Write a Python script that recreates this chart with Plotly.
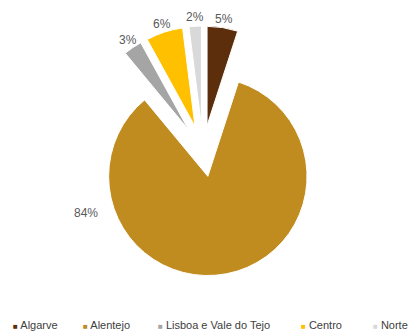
import math
import plotly.graph_objects as go

# Share of area by region (%)
regions = ["Algarve", "Alentejo", "Lisboa e Vale do Tejo", "Centro", "Norte"]
shares = [5, 84, 3, 6, 2]
colors = ["#5C2E0B", "#C08C1F", "#A5A5A5", "#FFC000", "#D9D9D9"]

PULL = 0.26
W, H = 410, 331
M = dict(l=0, r=4, t=26, b=55, autoexpand=False)
PW, PH = W - M["l"] - M["r"], H - M["t"] - M["b"]
LABEL_FONT = dict(family="Liberation Sans, Arial, sans-serif", size=12, color="#595959")


def px_to_paper(x, y):
    return (x - M["l"]) / PW, (H - M["b"] - y) / PH


total = sum(shares)
big = shares.index(max(shares))

fig = go.Figure(
    go.Pie(
        labels=regions,
        values=shares,
        sort=False,
        direction="clockwise",
        rotation=0,
        pull=[PULL] * len(shares),
        marker=dict(colors=colors, line=dict(color="white", width=1)),
        textinfo="none",
        showlegend=False,
        hoverinfo="label+percent",
    )
)

annotations = []

# percentage labels just beyond each small exploded slice, along its bisector
cx, cy = M["l"] + PW / 2, M["t"] + PH / 2
radius = min(PW, PH) / 2 / (1 + PULL)
label_dist = radius * (1 + PULL) + 9
cum = 0
for i, v in enumerate(shares):
    mid = (cum + v / 2) / total * 2 * math.pi
    cum += v
    pct = f"{round(100 * v / total)}%"
    if i == big:
        # the dominant slice gets its label on the left side
        x, y = px_to_paper(86, 213)
    else:
        x, y = px_to_paper(cx + label_dist * math.sin(mid), cy - label_dist * math.cos(mid))
    annotations.append(dict(
        x=x, y=y, xref="paper", yref="paper", showarrow=False,
        text=pct, font=LABEL_FONT, xanchor="center", yanchor="middle",
    ))

# horizontal legend along the bottom
legend_x = [11, 81, 156, 299, 371]
for name, col, x in zip(regions, colors, legend_x):
    ax, ay = px_to_paper(x, 325)
    annotations.append(dict(
        x=ax, y=ay, xref="paper", yref="paper", showarrow=False,
        text=f"<span style='color:{col};font-size:8px'>■</span> {name}",
        font=dict(family="Liberation Sans, Arial, sans-serif", size=11, color="#404040"),
        xanchor="left", yanchor="middle",
    ))

fig.update_layout(
    width=W, height=H,
    margin=M,
    paper_bgcolor="white",
    plot_bgcolor="white",
    annotations=annotations,
)

fig.write_html("out.html")
